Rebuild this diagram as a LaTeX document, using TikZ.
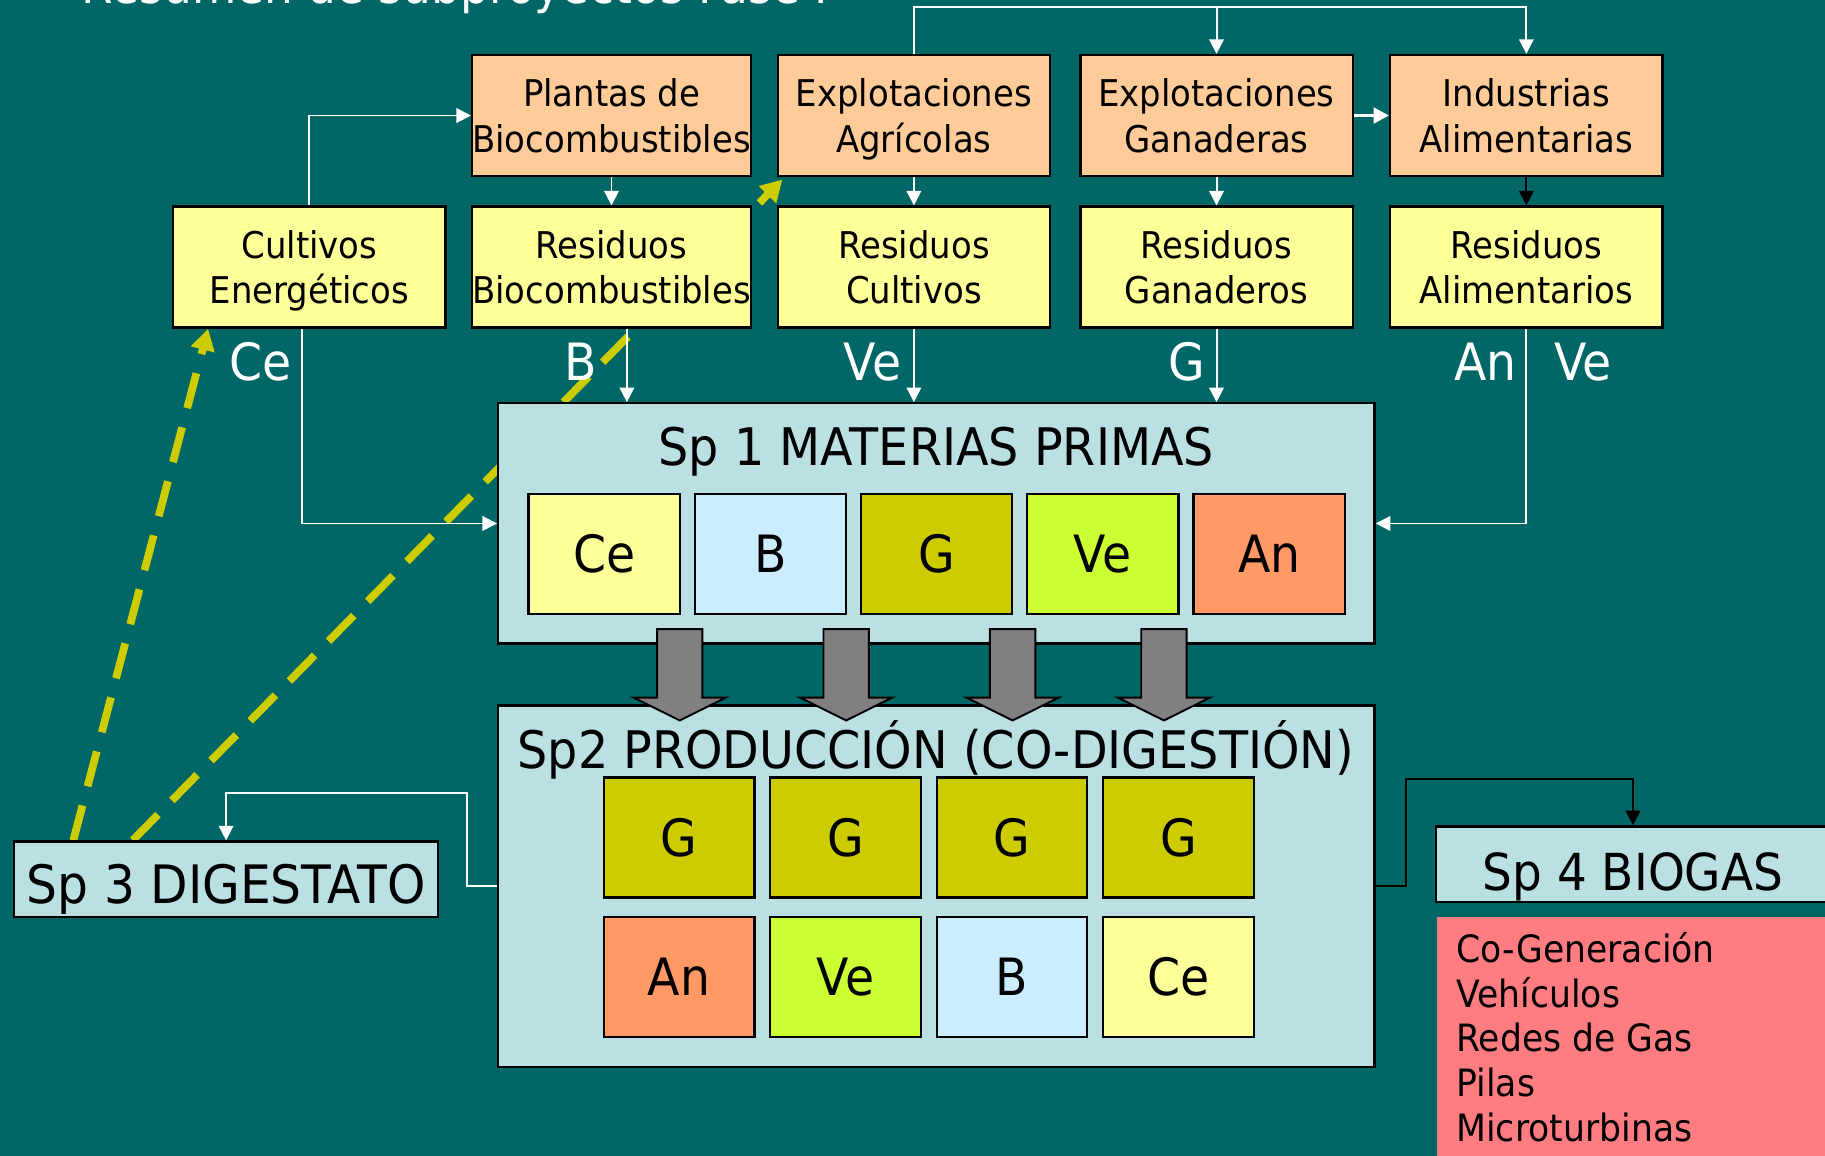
\documentclass[tikz,border=0pt]{standalone}
\usepackage{fontspec}
\setmainfont{DejaVu Sans}[FakeStretch=0.92]
\usetikzlibrary{arrows.meta,calc}
\definecolor{bgteal}{HTML}{006666}
\definecolor{peach}{HTML}{FFCC99}
\definecolor{paley}{HTML}{FFFF99}
\definecolor{spblue}{HTML}{BBE0E3}
\definecolor{cB}{HTML}{CCECFF}
\definecolor{cG}{HTML}{CCCC00}
\definecolor{cVe}{HTML}{CCFF33}
\definecolor{cAn}{HTML}{FF9966}
\definecolor{redbox}{HTML}{FF7C80}
\definecolor{dashy}{HTML}{CCCC00}
\definecolor{blockgray}{HTML}{808080}
\pgfdeclarelayer{bg}
\pgfsetlayers{bg,main}
\tikzset{
 topbox/.style={draw=black, line width=1.2pt, minimum width=140.4pt, minimum height=62.4pt,
   inner sep=0pt, align=center, text depth=0pt, font=\fontsize{19}{23.4}\selectfont},
 orbox/.style={topbox, fill=peach},
 yebox/.style={topbox, fill=paley},
 bigbox/.style={draw=black, line width=1.2pt, fill=spblue, inner sep=0pt},
 cell/.style={draw=black, line width=1.2pt, minimum width=77.6pt, minimum height=61.8pt,
   inner sep=0pt, font=\fontsize{26.5}{30}\selectfont},
 sptitle/.style={inner sep=0pt, anchor=base, font=\fontsize{26.7}{30}\selectfont},
 lbl/.style={inner sep=0pt, anchor=base, text=white, font=\fontsize{26.5}{30}\selectfont},
 wline/.style={draw=white, line width=1pt, -{Triangle[length=7.5pt,width=7.5pt]}},
 wthick/.style={draw=white, line width=2pt, -{Triangle[length=8pt,width=8pt]}},
 bline/.style={draw=black, line width=1pt, -{Triangle[length=7.5pt,width=7.5pt]}},
 yelldash/.style={draw=dashy, line width=4pt, dash pattern=on 18.6pt off 10.2pt,
   -{Triangle[length=11pt,width=12pt]}},
 blockarrow/.style={fill=blockgray, draw=black, line width=1pt, line join=miter},
}
\begin{document}
\begin{tikzpicture}[x=0.6pt,y=-0.6pt]
\useasboundingbox (0,0) rectangle (1568,993);
\clip (0,0) rectangle (1568,993);

% title (cut off at the top, as in the reference)
\node[anchor=base west, inner sep=0pt, text=white, font=\fontsize{25.5}{30}\selectfont] (title) at (70,3) {Resumen de subproyectos Fase I};

% top row
\node[orbox] (plant) at (525.4,99.25) {Plantas de\\Biocombustibles};
\node[orbox] (agr) at (785.2,99.25) {Explotaciones\\Agrícolas};
\node[orbox] (gan) at (1045.2,99.25) {Explotaciones\\Ganaderas};
\node[orbox] (ind) at (1311.4,99.25) {Industrias\\Alimentarias};
% second row
\node[yebox] (cult) at (265.8,229.5) {Cultivos\\Energéticos};
\node[yebox] (resbio) at (525.4,229.5) {Residuos\\Biocombustibles};
\node[yebox] (rescul) at (785.2,229.5) {Residuos\\Cultivos};
\node[yebox] (resgan) at (1045.2,229.5) {Residuos\\Ganaderos};
\node[yebox] (resali) at (1311.4,229.5) {Residuos\\Alimentarios};

% Sp1
\node[bigbox, minimum width=451.8pt, minimum height=123.9pt] (sp1) at (804.5,449.75) {};
\node[sptitle] (sp1t) at (804.5,400) {Sp 1 MATERIAS PRIMAS};
\node[cell, fill=paley, minimum width=78pt] (c1ce) at (519,475.75) {Ce};
\node[cell, fill=cB, minimum width=78pt] (c1b) at (662,475.75) {B};
\node[cell, fill=cG, minimum width=78pt] (c1g) at (804.5,475.75) {G};
\node[cell, fill=cVe, minimum width=78pt] (c1ve) at (947.5,475.75) {Ve};
\node[cell, fill=cAn, minimum width=78pt] (c1an) at (1090.5,475.75) {An};

% Sp2
\node[bigbox, minimum width=451.8pt, minimum height=186.6pt] (sp2) at (804.5,761.5) {};
\node[sptitle] (sp2t) at (804,660) {Sp2 PRODUCCIÓN (CO-DIGESTIÓN)};
\node[cell, fill=cG] (c2g1) at (583.5,719.5) {G};
\node[cell, fill=cG] (c2g2) at (726.5,719.5) {G};
\node[cell, fill=cG] (c2g3) at (869.5,719.5) {G};
\node[cell, fill=cG] (c2g4) at (1012.5,719.5) {G};
\node[cell, fill=cAn] (c2an) at (583.5,839.5) {An};
\node[cell, fill=cVe] (c2ve) at (726.5,839.5) {Ve};
\node[cell, fill=cB] (c2b) at (869.5,839.5) {B};
\node[cell, fill=paley] (c2ce) at (1012.5,839.5) {Ce};

% Sp3, Sp4
\node[bigbox, minimum width=218.7pt, text height=32.2pt, text depth=6.8pt,
  font=\fontsize{27.3}{30}\selectfont] (sp3) at (194.25,755.5) {Sp 3 DIGESTATO};
\node[bigbox, minimum width=202.8pt, text height=32.8pt, text depth=6.2pt,
  font=\fontsize{26.3}{30}\selectfont] (sp4) at (1403,742.5) {Sp 4 BIOGAS};
\node[fill=redbox, anchor=north west, minimum width=212pt, minimum height=132pt, inner sep=0pt] (red) at (1234,787.6) {};
\node[anchor=north west, inner sep=0pt, align=left, font=\fontsize{19.4}{23}\selectfont] (redtxt) at (1251,800)
  {\rule{0pt}{16pt}Co-Generación\\Vehículos\\Redes de Gas\\Pilas\\Microturbinas};

% white labels
\node[lbl] (lce) at (223.7,326.5) {Ce};
\node[lbl] (lb) at (498.6,326.5) {B};
\node[lbl] (lve) at (749.6,326.5) {Ve};
\node[lbl] (lg) at (1019.7,326.5) {G};
\node[lbl] (lan) at (1276,326.5) {An};
\node[lbl] (lve2) at (1360,326.5) {Ve};

% connectors
\coordinate (topline) at (0,5.7);
\draw[wline] (cult.north) |- (plant.west);
\draw[wline] (plant.south) -- (resbio.north);
\draw[wline] (agr.north) -- (agr.north |- topline) -| (ind.north);
\draw[wline] (gan.north |- topline) -- (gan.north);
\draw[wline] (agr.south) -- (rescul.north);
\draw[wline] (gan.south) -- (resgan.north);
\draw[wthick] (gan.east) -- (ind.west);
\draw[bline] (ind.south) -- (resali.north);
\draw[wline] ($(cult.south)+(-6.5,0)$) |- (sp1.west);
\coordinate (rbout) at ($(resbio.south)+(13.2,0)$);
\draw[wline] (rbout) -- (rbout |- sp1.north);
\draw[wline] (rescul.south) -- (rescul.south |- sp1.north);
\draw[wline] (resgan.south) -- (resgan.south |- sp1.north);
\draw[wline] (resali.south) |- (sp1.east);
\draw[wline] (sp2.west) -- ++(-25.7,0) -- ++(0,-79.9) -| (sp3.north);
\draw[bline] (sp2.east) -- ++(25.8,0) -- ++(0,-92.2) -| (sp4.north);

% block arrows Sp1 -> Sp2
\foreach \cx in {584,727,870,1000}{
  \draw[blockarrow] ({\cx-19.5},540.6) -- ({\cx+19.5},540.6) -- ({\cx+19.5},599.4)
    -- ({\cx+39.5},599.4) -- (\cx,619) -- ({\cx-39.5},599.4) -- ({\cx-19.5},599.4) -- cycle;
}

% background and yellow dashed arrows (behind the boxes)
\begin{pgfonlayer}{bg}
\fill[bgteal] (0,0) rectangle (1568,993);
\draw[yelldash] ($(sp3.north west)+(52,0)$) -- ($(cult.south west)+(31,0)$);
\draw[yelldash] ($(sp3.north west)+(103,0)$) -- ($(agr.south west)+(5,2)$);
\end{pgfonlayer}
\end{tikzpicture}
\end{document}
